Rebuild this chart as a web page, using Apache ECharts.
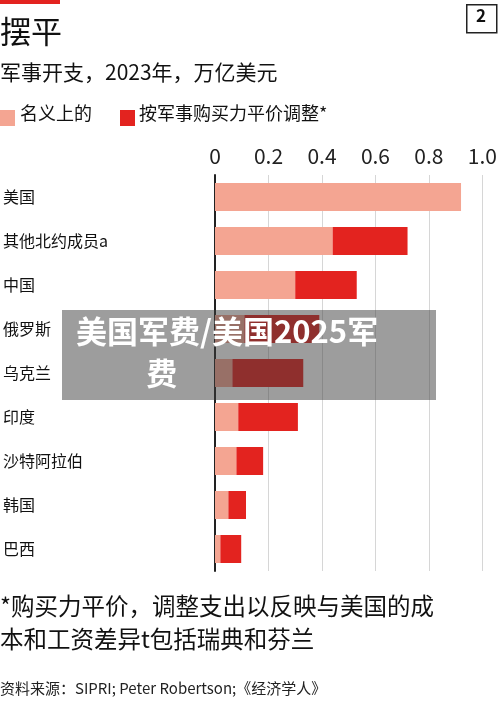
<!DOCTYPE html>
<html><head><meta charset="utf-8">
<script src="https://cdn.jsdelivr.net/npm/echarts@6/dist/echarts.min.js"></script>
<style>html,body{margin:0;padding:0;background:#fff}#c{width:500px;height:709px}</style>
</head><body><div id="c"></div>
<script>
// 国家
const countries = ['美国', '其他北约成员a', '中国', '俄罗斯', '乌克兰', '印度', '沙特阿拉伯', '韩国', '巴西'];
// 名义开支，万亿美元
const nominal = [0.92, 0.44, 0.30, 0.11, 0.065, 0.087, 0.08, 0.05, 0.02];
// 按军事购买力平价调整后的开支
const ppp = [0.92, 0.72, 0.53, 0.39, 0.33, 0.31, 0.18, 0.116, 0.098];
const xTicks = [0, 0.2, 0.4, 0.6, 0.8, 1.0];

const font = '"Noto Sans CJK SC", sans-serif';
const chart = echarts.init(document.getElementById('c'));
chart.setOption({
    animation: false,
    textStyle: { fontFamily: font },
    grid: { left: 212, right: 13, top: 175, bottom: 138 },
    xAxis: {
        type: 'value', position: 'top', min: 0, max: 1, interval: 0.2,
        axisLine: { show: false }, axisTick: { show: false },
        axisLabel: { color: '#222', fontSize: 21, margin: 8, formatter: v => xTicks.includes(v) ? (v === 1 ? '1.0' : String(v)) : '' },
        splitLine: { lineStyle: { color: '#d6d6d6', width: 1 } }
    },
    yAxis: {
        type: 'category', inverse: true, data: countries,
        axisLine: { lineStyle: { color: '#222', width: 2 } }, axisTick: { show: false },
        axisLabel: { color: '#111', fontSize: 16, align: 'left', margin: 212 }
    },
    series: [
        { type: 'bar', stack: 's', data: nominal, barWidth: 28, itemStyle: { color: '#f4a592' } },
        { type: 'bar', stack: 's', data: ppp.map((v, i) => +(v - nominal[i]).toFixed(3)), barWidth: 28, itemStyle: { color: '#e3231f' } }
    ],
    graphic: [
        { type: 'rect', left: 0, top: 0, shape: { width: 60, height: 4 }, style: { fill: '#e3231f' } },
        { type: 'text', left: 0, top: 16, style: { text: '摆平', font: '31px ' + font, fill: '#111' } },
        { type: 'rect', left: 466, top: 4, shape: { width: 30, height: 28 }, style: { fill: '#fff', stroke: '#222', lineWidth: 1.5 } },
        { type: 'text', left: 476, top: 7, style: { text: '2', font: 'bold 17px ' + font, fill: '#111' } },
        { type: 'text', left: 0, top: 62, style: { text: '军事开支，2023年，万亿美元', font: '21px ' + font, fill: '#111' } },
        { type: 'rect', left: 0, top: 110, shape: { width: 15, height: 16 }, style: { fill: '#f4a592' } },
        { type: 'text', left: 20, top: 104, style: { text: '名义上的', font: '18px ' + font, fill: '#111' } },
        { type: 'rect', left: 120, top: 110, shape: { width: 15, height: 16 }, style: { fill: '#e3231f' } },
        { type: 'text', left: 139, top: 104, style: { text: '按军事购买力平价调整*', font: '18px ' + font, fill: '#111' } },
        { type: 'text', left: 0, top: 590, style: { text: '*购买力平价，调整支出以反映与美国的成\n本和工资差异t包括瑞典和芬兰', font: '23.5px ' + font, fill: '#111', lineHeight: 33 } },
        { type: 'text', left: 0, top: 681, style: { text: '资料来源：SIPRI; Peter Robertson;《经济学人》', font: '15px ' + font, fill: '#222' } },
        { type: 'rect', left: 62, top: 310, shape: { width: 374, height: 90 }, style: { fill: 'rgba(60,60,60,0.5)' }, z: 100 },
        { type: 'text', left: 76, top: 310, z: 101, style: { text: '美国军费/美国2025军\n          费', font: 'bold 31px ' + font, fill: '#fff', lineHeight: 42 } }
    ]
});
</script></body></html>
